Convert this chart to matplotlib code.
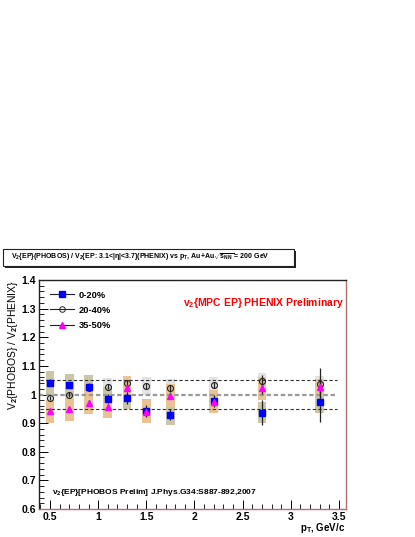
import numpy as np
import matplotlib
matplotlib.use("Agg")
import matplotlib.pyplot as plt
from matplotlib.patches import Rectangle

plt.rcParams['font.family'] = ['Liberation Sans', 'DejaVu Sans']
plt.rcParams['font.weight'] = 'bold'
plt.rcParams['mathtext.fontset'] = 'custom'
plt.rcParams['mathtext.rm'] = 'Liberation Sans:bold'
plt.rcParams['mathtext.it'] = 'Liberation Sans:bold'
plt.rcParams['mathtext.bf'] = 'Liberation Sans:bold'

# pT bins, GeV/c
pt = [0.5, 0.7, 0.9, 1.1, 1.3, 1.5, 1.75, 2.2, 2.7, 3.3]

# 0-20%
v_0_20 = [1.041, 1.033, 1.027, 0.986, 0.988, 0.943, 0.930, 0.977, 0.937, 0.973]
stat_0_20 = [0.012, 0.012, 0.012, 0.015, 0.02, 0.02, 0.02, 0.02, 0.045, 0.07]
sys_0_20 = [0.041, 0.040, 0.040, 0.040, 0.040, 0.040, 0.035, 0.040, 0.038, 0.037]

# 20-40%
v_20_40 = [0.988, 1.000, 1.023, 1.027, 1.039, 1.030, 1.023, 1.032, 1.047, 1.036]
stat_20_40 = [0.008, 0.008, 0.008, 0.008, 0.01, 0.01, 0.01, 0.01, 0.02, 0.055]
sys_20_40 = [0.03, 0.03, 0.03, 0.03, 0.025, 0.03, 0.03, 0.03, 0.027, 0.03]

# 35-50%
v_35_50 = [0.942, 0.948, 0.972, 0.956, 1.021, 0.940, 0.995, 0.975, 1.021, 1.025]
stat_35_50 = [0.01, 0.01, 0.01, 0.01, 0.012, 0.012, 0.012, 0.012, 0.02, 0.02]
sys_35_50 = [0.04, 0.04, 0.04, 0.037, 0.043, 0.04, 0.04, 0.04, 0.04, 0.03]

ref_lines = [1.05, 1.0, 0.95]

W, H = 415, 537
fig = plt.figure(figsize=(W / 100, H / 100), dpi=100)
ax = fig.add_axes([39 / W, 1 - 509 / H, (345.7 - 39) / W, (509 - 280) / H])

box_w = 0.09
for vals, syst, col in [(v_20_40, sys_20_40, '#e4e4e4'),
                        (v_0_20, sys_0_20, '#cbc6a8'),
                        (v_35_50, sys_35_50, '#e9c394')]:
    v = np.array(vals)
    s = np.array(syst)
    ax.bar(pt, 2 * s, bottom=v - s, width=box_w, color=col, edgecolor='none', zorder=1)

# reference lines
ax.plot([0.40, 3.48], [ref_lines[0]] * 2, color='#333333', lw=0.8, dashes=(3, 2), zorder=2)
ax.plot([0.386, 3.48], [ref_lines[1]] * 2, color='#9a9a9a', lw=1.6, dashes=(2, 1.2), zorder=2)
ax.plot([0.40, 3.48], [ref_lines[2]] * 2, color='#333333', lw=0.8, dashes=(3, 2), zorder=2)

ax.errorbar(pt, v_20_40, yerr=stat_20_40, fmt='o', mfc='none', mec='#222222', mew=0.8,
            ms=4.3, ecolor='#222222', elinewidth=0.9, capsize=0, zorder=4)
ax.errorbar(pt, v_0_20, yerr=stat_0_20, fmt='s', mfc='#0000ff', mec='#0000ff',
            ms=4.6, ecolor='#222222', elinewidth=0.9, capsize=0, zorder=5)
ax.errorbar(pt, v_35_50, yerr=stat_35_50, fmt='^', mfc='#ff00ff', mec='#ff00ff',
            ms=4.8, ecolor='#222222', elinewidth=0.9, capsize=0, zorder=6)

# legend
h1, = ax.plot([], [], 's-', color='#222222', mfc='#0000ff', mec='#0000ff', ms=4, lw=0.8)
h2, = ax.plot([], [], 'o-', color='#222222', mfc='none', mec='#222222', ms=4, mew=0.7, lw=0.8)
h3, = ax.plot([], [], '^-', color='#222222', mfc='#ff00ff', mec='#ff00ff', ms=4.2, lw=0.8)
leg = ax.legend([h1, h2, h3], ['0-20%', '20-40%', '35-50%'], loc='upper left',
                bbox_to_anchor=(0.01, 0.99), frameon=False, fontsize=6.7,
                handlelength=2.5, handletextpad=0.5, labelspacing=0.65)

ax.set_xlim(0.386, 3.57)
ax.set_ylim(0.6, 1.4)
ax.set_xticks([0.5, 1, 1.5, 2, 2.5, 3, 3.5])
ax.set_xticklabels(['0.5', '1', '1.5', '2', '2.5', '3', '3.5'])
ax.set_xticks(np.arange(0.4, 3.57, 0.1), minor=True)
ax.set_yticks([0.6, 0.7, 0.8, 0.9, 1.0, 1.1, 1.2, 1.3, 1.4])
ax.set_yticklabels(['0.6', '0.7', '0.8', '0.9', '1', '1.1', '1.2', '1.3', '1.4'])
ax.set_yticks(np.arange(0.6, 1.401, 0.02), minor=True)
ax.tick_params(which='both', direction='in', top=False, right=False, labelsize=7.5, pad=2)
ax.tick_params(which='major', length=6.5, width=0.7)
ax.tick_params(which='minor', length=3.3, width=0.6)

for side in ['left', 'top']:
    ax.spines[side].set_color('#222222')
for side in ['right', 'bottom']:
    ax.spines[side].set_color('#b46e6e')
for sp in ax.spines.values():
    sp.set_linewidth(1.0)

ax.set_ylabel('V$_2${PHOBOS} / V$_2${PHENIX}', fontsize=7.5, loc='top', labelpad=1)
fig.text(345 / W, 1 - 528 / H, 'p$_T$, GeV/c', fontsize=7, ha='right', va='center')

ax.text(344 / W, 1 - 303 / H, 'v$_2${MPC EP} PHENIX Preliminary', transform=fig.transFigure,
        color='#ff0000', fontsize=7.5, ha='right', va='center')
ax.text(52 / W, 1 - 493 / H, 'v$_2${EP}[PHOBOS Prelim] J.Phys.G34:S887-892,2007',
        transform=fig.transFigure, fontsize=6, ha='left', va='center')

# title box with shadow
bx0, by0, bx1, by1 = 3, 249, 294, 266
fig.patches.append(Rectangle(((bx0 + 2) / W, 1 - (by1 + 2) / H), (bx1 - bx0) / W,
                             (by1 - by0) / H, transform=fig.transFigure,
                             facecolor='#222222', edgecolor='none', zorder=1))
fig.patches.append(Rectangle((bx0 / W, 1 - by1 / H), (bx1 - bx0) / W, (by1 - by0) / H,
                             transform=fig.transFigure, facecolor='white',
                             edgecolor='#222222', lw=0.8, zorder=2))
fig.text(11 / W, 1 - 257.5 / H,
         'V$_2${EP}(PHOBOS) / V$_2${EP: 3.1<|η|<3.7}(PHENIX) vs p$_T$, Au+Au$\\sqrt{s_{NN}}$ = 200 GeV',
         fontsize=5, ha='left', va='center', zorder=3)

fig.savefig('out.png', dpi=100)
